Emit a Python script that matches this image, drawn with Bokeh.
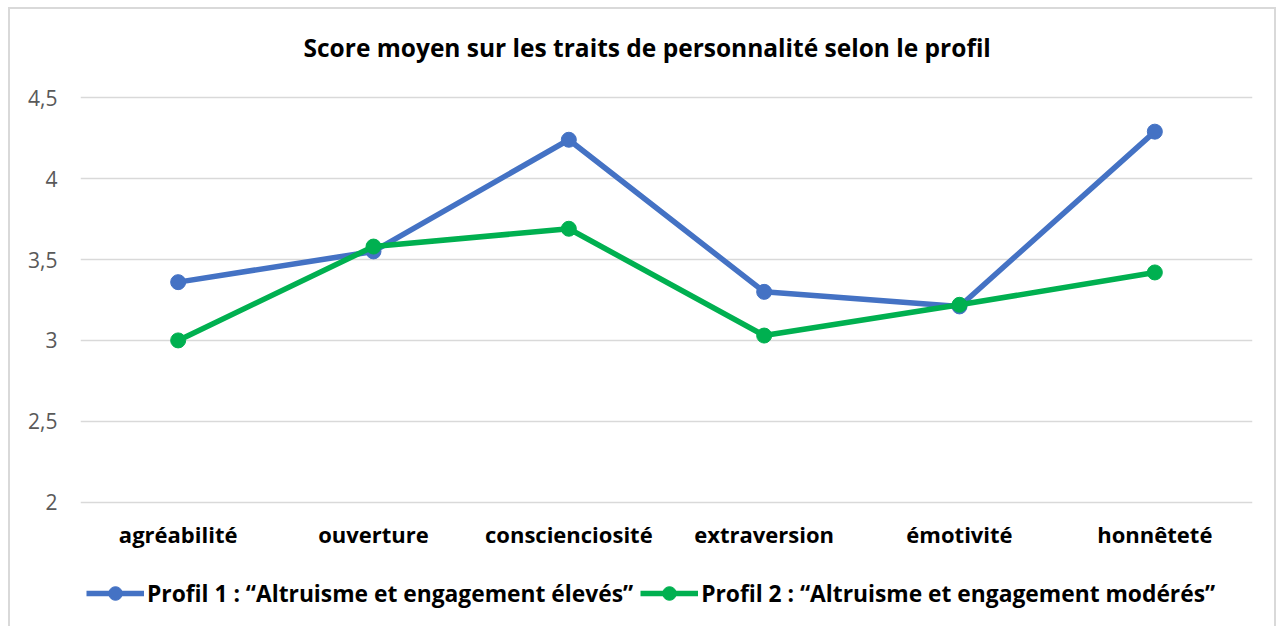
from bokeh.plotting import figure
from bokeh.models import Legend, LegendItem, FixedTicker, Range1d
from bokeh.embed import file_html
from bokeh.resources import INLINE

categories = ["agréabilité", "ouverture", "conscienciosité", "extraversion", "émotivité", "honnêteté"]
profil1 = [3.36, 3.55, 4.24, 3.30, 3.21, 4.29]
profil2 = [3.00, 3.58, 3.69, 3.03, 3.22, 3.42]
series_names = ["Profil 1 : \u201cAltruisme et engagement élevés\u201d",
                "Profil 2 : \u201cAltruisme et engagement modérés\u201d"]
y_ticks = [2, 2.5, 3, 3.5, 4, 4.5]
y_tick_labels = ["2", "2,5", "3", "3,5", "4", "4,5"]
title_text = "Score moyen sur les traits de personnalité selon le profil"

FONT = "Open Sans"
BLUE = "#4472C4"
GREEN = "#00B050"

# frame extends beyond the value axis to leave room for the legend inside it
p = figure(x_range=categories, y_range=Range1d(1.3, 4.6), width=1268, height=619,
           output_backend="svg", toolbar_location=None,
           min_border_left=70, min_border_right=26, min_border_top=72, min_border_bottom=13)
p.styles = {"margin-left": "8px", "margin-top": "7px",
            "border-left": "2px solid #d9d9d9", "border-top": "2px solid #d9d9d9",
            "border-right": "2px solid #d9d9d9"}
p.outline_line_color = None
p.background_fill_color = "white"
p.border_fill_color = "white"

p.title.text = title_text
p.title.align = "left"
p.title.offset = 223
p.title.text_font = FONT
p.title.text_font_size = "24.5px"
p.title.text_font_style = "bold"
p.title.text_color = "black"
p.title.standoff = 35

p.xgrid.grid_line_color = None
p.ygrid.grid_line_color = "#d9d9d9"
p.ygrid.grid_line_width = 1.5
p.yaxis.ticker = FixedTicker(ticks=y_ticks)
p.yaxis.major_label_overrides = {t: l for t, l in zip(y_ticks, y_tick_labels)}
for ax in (p.xaxis, p.yaxis):
    ax.axis_line_color = None
    ax.major_tick_line_color = None
    ax.minor_tick_line_color = None
    ax.major_tick_out = 0
    ax.major_tick_in = 0
p.yaxis.major_label_text_font = FONT
p.yaxis.major_label_text_font_size = "21px"
p.yaxis.major_label_text_color = "#595959"
p.yaxis.major_label_standoff = 23
p.xaxis.fixed_location = y_ticks[0]
p.xaxis.major_label_text_font = FONT
p.xaxis.major_label_text_font_size = "22px"
p.xaxis.major_label_text_font_style = "bold"
p.xaxis.major_label_text_color = "black"
p.xaxis.major_label_standoff = 17

items = []
for vals, color, name in ((profil1, BLUE, series_names[0]), (profil2, GREEN, series_names[1])):
    l = p.line(categories, vals, line_color=color, line_width=5.5, line_join="round")
    s = p.scatter(categories, vals, size=15, fill_color=color, line_color=color)
    items.append(LegendItem(label=name, renderers=[l, s]))

legend = Legend(items=items, orientation="horizontal", location=(6, 5))
legend.label_text_font = FONT
legend.label_text_font_size = "22.8px"
legend.label_text_font_style = "bold"
legend.label_text_color = "black"
legend.border_line_color = None
legend.background_fill_alpha = 0
legend.glyph_width = 58
legend.glyph_height = 34
legend.spacing = 7
legend.label_standoff = 3
legend.padding = 0
legend.margin = 0
p.add_layout(legend, "center")

open("out.html", "w").write(file_html(p, INLINE))
